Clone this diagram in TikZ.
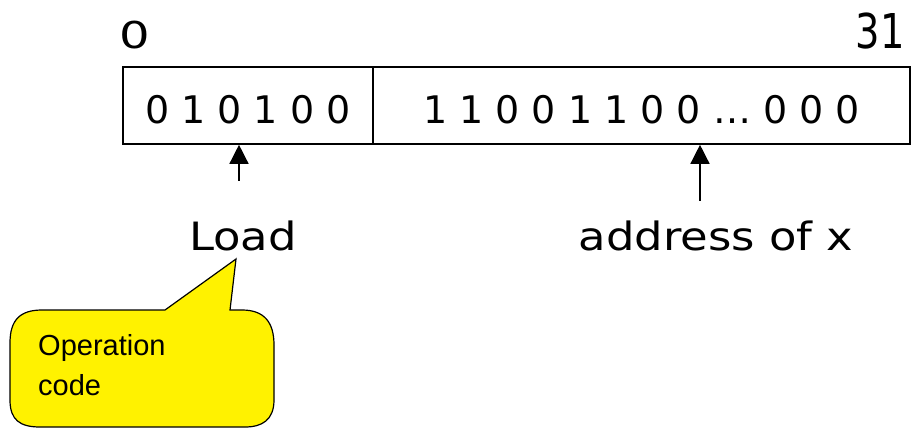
\documentclass[tikz,border=0pt]{standalone}
\usepackage{fontspec}
\setmainfont{DejaVu Sans}
\newfontfamily\wordfont[FakeStretch=1.15]{DejaVu Sans}
\newfontfamily\widefont[FakeStretch=1.3]{DejaVu Sans}
\newfontfamily\narrowfont[FakeStretch=0.8]{DejaVu Sans}
\newfontfamily\calloutfont{Liberation Sans}
\usepackage{tikz}
\usetikzlibrary{arrows.meta,positioning}

\tikzset{
	field/.style={rectangle,draw,line width=1.6pt,inner sep=0pt,text height=35pt,text depth=0pt},
	pointer/.style={line width=1.4pt,-{Triangle[length=19pt,width=19pt]}},
	bittext/.style={font=\fontsize{38}{44}\selectfont},
	wordtext/.style={font=\wordfont\fontsize{39}{44}\selectfont}
}

\begin{document}
\begin{tikzpicture}[x=1pt,y=-1pt]
\useasboundingbox (0,0) rectangle (913,429);

% instruction word
\begin{scope}[every node/.style={field,bittext}]
	\node[minimum width=250pt,minimum height=77pt] (opfield) at (248,105.5) {0 1 0 1 0 0};
	\node[minimum width=537pt,minimum height=77pt] (addrfield) at (641.5,105.5) {1 1 0 0 1 1 0 0 \dots\ 0 0 0};
\end{scope}

\node[font=\widefont\fontsize{37}{40}\selectfont,anchor=base west,inner sep=0pt] (first) at (119,48) {0};
\node[font=\narrowfont\fontsize{48}{52}\selectfont,anchor=base east,inner sep=0pt] (last) at (905,48) {31};

\node[wordtext,anchor=base] (load) at (243,250) {Load};
\node[wordtext,anchor=base] (addr) at (716,250) {address of x};

\draw[pointer] ([xshift=-4pt,yshift=36pt]load.north) -- (opfield.south -| 239,0);
\draw[pointer] ([xshift=-16pt,yshift=16pt]addr.north) -- (opfield.south -| 700,0);

% callout
\draw[fill=yellow,line width=1.2pt]
	(10,343) .. controls (10,320) and (20,310) .. (42,310) -- (165,310) -- (236,259) -- (230,310)
	-- (242,310) .. controls (264,310) and (274,322) .. (274,345) -- (274,400)
	.. controls (274,420) and (262,427) .. (245,427) -- (40,427)
	.. controls (20,427) and (10,420) .. (10,400) -- cycle;
\node[font=\calloutfont\fontsize{29}{40}\selectfont,align=left,anchor=north west,inner sep=0pt] (opcode) at (38,334) {Operation\\code};
\end{tikzpicture}
\end{document}
